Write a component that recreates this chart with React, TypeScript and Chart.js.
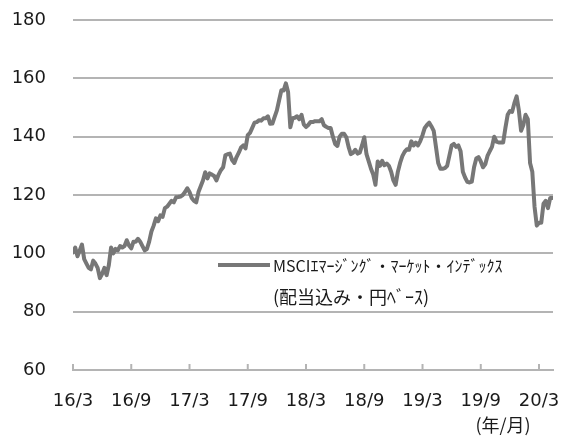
import React, { useEffect, useRef } from "react";
import { Chart, registerables } from "chart.js";

Chart.register(...registerables);

// Weekly index values, MSCI Emerging Markets (dividends incl., JPY), from 2016/3
const emIndex: number[] = [
  100.3, 102, 99, 101, 103, 98, 96.5, 95, 94.5, 97.5,
  96.5, 95, 91.5, 93, 95, 92.5, 96, 102, 100, 101.5,
  101, 102.5, 102, 102.5, 104.5, 102.7, 101.7, 104, 104, 105,
  104, 102.5, 101, 101.5, 104, 107.5, 109.5, 112, 111, 113,
  112.5, 115.5, 116, 117, 118, 117.5, 119.2, 119.3, 119.5, 120,
  121, 122.3, 121, 119, 118, 117.5, 121, 123, 125, 127.8,
  125.7, 127.4, 127, 126.5, 125, 127, 128.5, 129.5, 133.6, 134,
  134.2, 132, 131, 133, 134.5, 136.3, 137, 136, 140.5, 141.3,
  143, 144.8, 145, 145.6, 145.5, 146.3, 146.3, 147, 144.4, 144.5,
  146.8, 149, 152.5, 155.9, 155.8, 158.3, 155.3, 143.2, 146.3, 146.5,
  147, 146, 147.5, 144.2, 143.3, 144, 145, 145, 145.3, 145.3,
  145.3, 146, 143.9, 143.4, 143, 143, 140, 137.5, 136.8, 140,
  141, 141, 139.8, 136.5, 134, 134.5, 135.5, 134.2, 134.5, 137,
  139.8, 134, 131.5, 129, 127, 123.5, 131.5, 130, 131.7, 130.2,
  130.8, 130, 128, 125, 123.5, 128, 131, 133.3, 134.8, 135.7,
  135.5, 138.4, 137, 138, 137, 138.5, 140.5, 143, 144, 144.8,
  143.5, 142, 136.5, 131, 129, 129, 129.2, 130, 133.5, 137,
  137.5, 136.5, 137, 135, 128, 126, 124.5, 124.3, 124.6, 129.5,
  132.5, 133, 131.5, 129.5, 130.5, 133.4, 135, 136.5, 140, 138.3,
  138, 138, 138, 143, 147.5, 148.8, 148.5, 151.5, 153.8, 149,
  142, 144, 147.5, 146, 131, 128, 116, 109.5, 110.5, 110.5,
  117, 118, 115.5, 119, 119,
];

const seriesLabel: string[] = ["MSCIｴﾏｰｼﾞﾝｸﾞ・ﾏｰｹｯﾄ・ｲﾝﾃﾞｯｸｽ", "(配当込み・円ﾍﾞｰｽ)"];
const xAxisUnit = "(年/月)";
const yTicks: number[] = [60, 80, 100, 120, 140, 160, 180];
const startYear = 16;
const startMonth = 3;
const monthsPerWeek = 12 / 52;
const xMaxMonths = 49.44;

const LINE_COLOR = "#777777";
const GRID_COLOR = "#b4b4b4";
const TEXT_COLOR = "#1a1a1a";
const LATIN_FONT = "'DejaVu Sans', 'Noto Sans CJK JP', sans-serif";
const JP_FONT = "'Noto Sans CJK JP', 'DejaVu Sans', sans-serif";

const monthLabel = (v: number): string => {
  const total = startMonth - 1 + Math.round(v);
  const y = startYear + Math.floor(total / 12);
  const m = (total % 12) + 1;
  return `${y}/${m}`;
};

const decorPlugin = {
  id: "decor",
  afterDraw(chart: any) {
    const { ctx, chartArea, scales } = chart;
    const xs = scales.x;
    ctx.save();
    // upward tick marks on the x axis
    ctx.strokeStyle = GRID_COLOR;
    ctx.lineWidth = 2;
    xs.ticks.forEach((t: any) => {
      const px = xs.getPixelForValue(t.value);
      ctx.beginPath();
      ctx.moveTo(px, chartArea.bottom);
      ctx.lineTo(px, chartArea.bottom - 6);
      ctx.stroke();
    });
    // unit label
    ctx.fillStyle = TEXT_COLOR;
    ctx.font = `18px ${JP_FONT}`;
    ctx.textAlign = "center";
    ctx.textBaseline = "middle";
    ctx.fillText(xAxisUnit, chartArea.right - 50, chartArea.bottom + 55);
    // legend
    const lx = chartArea.left + 145;
    const ly = chartArea.top + 245;
    ctx.strokeStyle = LINE_COLOR;
    ctx.lineWidth = 4;
    ctx.beginPath();
    ctx.moveTo(lx, ly);
    ctx.lineTo(lx + 52, ly);
    ctx.stroke();
    ctx.textAlign = "left";
    ctx.font = `16px ${JP_FONT}`;
    ctx.fillText(seriesLabel[0], lx + 55, ly + 1);
    ctx.font = `18px ${JP_FONT}`;
    ctx.fillText(seriesLabel[1], lx + 55, ly + 32);
    ctx.restore();
  },
};

export default function App() {
  const ref = useRef<HTMLCanvasElement | null>(null);
  useEffect(() => {
    if (!ref.current) return;
    const chart = new Chart(ref.current, {
      type: "line",
      data: {
        datasets: [
          {
            label: seriesLabel.join(""),
            data: emIndex.map((v, i) => ({ x: i * monthsPerWeek, y: v })),
            borderColor: LINE_COLOR,
            borderWidth: 4,
            pointRadius: 0,
            tension: 0,
            borderJoinStyle: "round",
            borderCapStyle: "round",
          },
        ],
      },
      options: {
        responsive: false,
        animation: false,
        layout: { padding: { top: 20, right: 10, left: 0, bottom: 0 } },
        plugins: { legend: { display: false }, tooltip: { enabled: false } },
        scales: {
          x: {
            type: "linear",
            min: 0,
            max: xMaxMonths,
            afterFit: (s: any) => {
              s.height = 67;
            },
            ticks: {
              stepSize: 6,
              includeBounds: false,
              autoSkip: false,
              maxRotation: 0,
              padding: 0,
              color: TEXT_COLOR,
              font: { family: LATIN_FONT, size: 18 },
              callback: (v: any) => monthLabel(Number(v)),
            },
            grid: { drawOnChartArea: false, drawTicks: true, tickLength: 21, tickColor: "rgba(0,0,0,0)" },
            border: { display: true, color: GRID_COLOR, width: 2 },
          },
          y: {
            min: 60,
            max: 180,
            afterFit: (s: any) => {
              s.width = 73;
            },
            afterBuildTicks: (s: any) => {
              s.ticks = yTicks.map((v) => ({ value: v }));
            },
            ticks: {
              padding: 0,
              color: TEXT_COLOR,
              font: { family: LATIN_FONT, size: 18 },
            },
            grid: { color: GRID_COLOR, lineWidth: 2, drawTicks: true, tickLength: 27, tickColor: "rgba(0,0,0,0)" },
            border: { display: false },
          },
        },
      },
      plugins: [decorPlugin],
    } as any);
    return () => chart.destroy();
  }, []);
  return (
    <div style={{ position: "fixed", left: 0, top: 0, width: 563, height: 437, background: "#fff" }}>
      <canvas ref={ref} width={563} height={437} style={{ display: "block" }} />
    </div>
  );
}
